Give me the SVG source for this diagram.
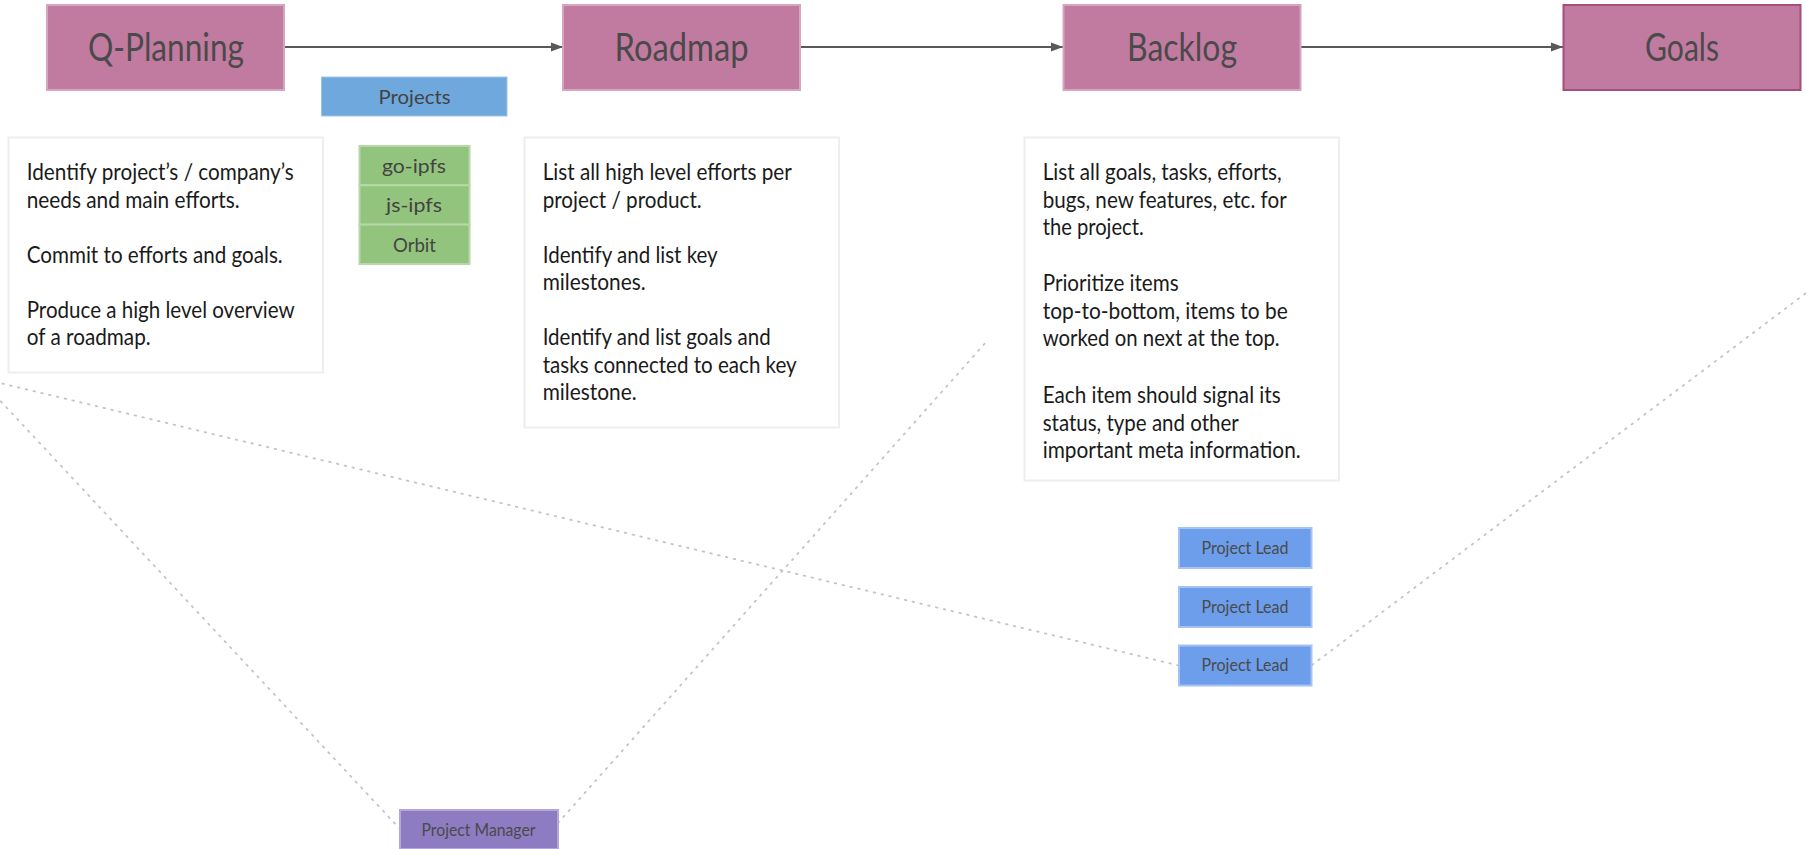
<svg xmlns="http://www.w3.org/2000/svg" width="1807" height="849" viewBox="0 0 1807 849">
<defs>
<marker id="arr" markerWidth="12" markerHeight="10" refX="12" refY="5" orient="auto" markerUnits="userSpaceOnUse">
<path d="M0,0.4 L12,5 L0,9.6 Z" fill="#595959"/>
</marker>
<style>
.stage{fill:#c27ba0;stroke:#d5a6bd;stroke-width:2}
.goal{fill:#c27ba0;stroke:#a64d79;stroke-width:2}
.title{font-family:Lato,"Open Sans","Liberation Sans",sans-serif;font-size:38px;fill:#4a4a4a}
.desc{fill:#ffffff;stroke:#eeeeee;stroke-width:2}
.body{font-family:Lato,"Open Sans","Liberation Sans",sans-serif;font-size:24px;fill:#1a1a1a}
.lbl{font-family:Lato,"Open Sans","Liberation Sans",sans-serif;font-size:20px;fill:#434343}
.sm{font-family:Lato,"Open Sans","Liberation Sans",sans-serif;font-size:17px;fill:#4a4a4a}
.proj{fill:#6fa8dc;stroke:#9fc5e8;stroke-width:1}
.green{fill:#93c47d;stroke:#b6d7a8;stroke-width:2}
.lead{fill:#6d9eeb;stroke:#a4c2f4;stroke-width:2}
.pm{fill:#8e7cc3;stroke:#b4a7d6;stroke-width:2}
.flow{stroke:#595959;stroke-width:2;fill:none}
.dot{stroke:#c4c4c4;stroke-width:1.8;fill:none;stroke-dasharray:1.6 6.4;stroke-linecap:round}
</style>
</defs>

<g id="connectors">
<line class="flow" x1="284" y1="47" x2="563" y2="47" marker-end="url(#arr)"/>
<line class="flow" x1="800" y1="47" x2="1063" y2="47" marker-end="url(#arr)"/>
<line class="flow" x1="1300" y1="47" x2="1563" y2="47" marker-end="url(#arr)"/>
<line class="dot" x1="-21" y1="378" x2="1179" y2="665.5"/>
<line class="dot" x1="-21" y1="378" x2="400" y2="829"/>
<line class="dot" x1="558" y1="823" x2="987" y2="341"/>
<line class="dot" x1="1312" y1="665" x2="1830" y2="275"/>
</g>

<g id="q-planning">
<rect class="stage" x="47" y="5" width="237" height="85"/>
<text class="title" x="88" y="61" textLength="156" lengthAdjust="spacingAndGlyphs">Q-Planning</text>
</g>
<g id="roadmap">
<rect class="stage" x="563" y="5" width="237" height="85"/>
<text class="title" x="614.5" y="61" textLength="134" lengthAdjust="spacingAndGlyphs">Roadmap</text>
</g>
<g id="backlog">
<rect class="stage" x="1063.5" y="5" width="237" height="85"/>
<text class="title" x="1127" y="61" textLength="110" lengthAdjust="spacingAndGlyphs">Backlog</text>
</g>
<g id="goals">
<rect class="goal" x="1563.5" y="5" width="237" height="85"/>
<text class="title" x="1645" y="61" textLength="74" lengthAdjust="spacingAndGlyphs">Goals</text>
</g>

<g id="projects">
<rect class="proj" x="321.5" y="77" width="185.5" height="39"/>
<text class="lbl" x="378.5" y="104" textLength="72" lengthAdjust="spacingAndGlyphs">Projects</text>
</g>
<g id="go-ipfs">
<rect class="green" x="359.5" y="146" width="110" height="39.3"/>
<text class="lbl" x="382" y="173" textLength="64" lengthAdjust="spacingAndGlyphs">go-ipfs</text>
</g>
<g id="js-ipfs">
<rect class="green" x="359.5" y="185.3" width="110" height="39.3"/>
<text class="lbl" x="386" y="212" textLength="56" lengthAdjust="spacingAndGlyphs">js-ipfs</text>
</g>
<g id="orbit">
<rect class="green" x="359.5" y="224.6" width="110" height="39.4"/>
<text class="lbl" x="393" y="251.5" textLength="43" lengthAdjust="spacingAndGlyphs">Orbit</text>
</g>

<g id="qplanning-desc">
<rect class="desc" x="8.5" y="137.5" width="314.5" height="235"/>
<text class="body" x="26.7" y="180" textLength="267" lengthAdjust="spacingAndGlyphs">Identify project’s / company’s</text>
<text class="body" x="26.7" y="207.5" textLength="213" lengthAdjust="spacingAndGlyphs">needs and main efforts.</text>
<text class="body" x="26.7" y="262.5" textLength="256" lengthAdjust="spacingAndGlyphs">Commit to efforts and goals.</text>
<text class="body" x="26.7" y="317.5" textLength="268" lengthAdjust="spacingAndGlyphs">Produce a high level overview</text>
<text class="body" x="26.7" y="345" textLength="124" lengthAdjust="spacingAndGlyphs">of a roadmap.</text>
</g>

<g id="roadmap-desc">
<rect class="desc" x="524.5" y="137.5" width="314.5" height="290"/>
<text class="body" x="542.7" y="180" textLength="249" lengthAdjust="spacingAndGlyphs">List all high level efforts per</text>
<text class="body" x="542.7" y="207.5" textLength="159" lengthAdjust="spacingAndGlyphs">project / product.</text>
<text class="body" x="542.7" y="262.5" textLength="175" lengthAdjust="spacingAndGlyphs">Identify and list key</text>
<text class="body" x="542.7" y="290" textLength="103" lengthAdjust="spacingAndGlyphs">milestones.</text>
<text class="body" x="542.7" y="345" textLength="228" lengthAdjust="spacingAndGlyphs">Identify and list goals and</text>
<text class="body" x="542.7" y="372.5" textLength="254" lengthAdjust="spacingAndGlyphs">tasks connected to each key</text>
<text class="body" x="542.7" y="400" textLength="94" lengthAdjust="spacingAndGlyphs">milestone.</text>
</g>

<g id="backlog-desc">
<rect class="desc" x="1024.5" y="137.5" width="314.5" height="343"/>
<text class="body" x="1042.7" y="180" textLength="239" lengthAdjust="spacingAndGlyphs">List all goals, tasks, efforts,</text>
<text class="body" x="1042.7" y="207.5" textLength="244" lengthAdjust="spacingAndGlyphs">bugs, new features, etc. for</text>
<text class="body" x="1042.7" y="235" textLength="101" lengthAdjust="spacingAndGlyphs">the project.</text>
<text class="body" x="1042.7" y="291" textLength="136" lengthAdjust="spacingAndGlyphs">Prioritize items</text>
<text class="body" x="1042.7" y="318.5" textLength="245" lengthAdjust="spacingAndGlyphs">top-to-bottom, items to be</text>
<text class="body" x="1042.7" y="346" textLength="237" lengthAdjust="spacingAndGlyphs">worked on next at the top.</text>
<text class="body" x="1042.7" y="403" textLength="238" lengthAdjust="spacingAndGlyphs">Each item should signal its</text>
<text class="body" x="1042.7" y="430.5" textLength="196" lengthAdjust="spacingAndGlyphs">status, type and other</text>
<text class="body" x="1042.7" y="458" textLength="258" lengthAdjust="spacingAndGlyphs">important meta information.</text>
</g>

<g id="project-lead-1">
<rect class="lead" x="1179" y="528" width="132.5" height="40"/>
<text class="sm" x="1201.5" y="553.5" textLength="87" lengthAdjust="spacingAndGlyphs">Project Lead</text>
</g>
<g id="project-lead-2">
<rect class="lead" x="1179" y="587" width="132.5" height="40"/>
<text class="sm" x="1201.5" y="612.8" textLength="87" lengthAdjust="spacingAndGlyphs">Project Lead</text>
</g>
<g id="project-lead-3">
<rect class="lead" x="1179" y="645.5" width="132.5" height="40"/>
<text class="sm" x="1201.5" y="671.4" textLength="87" lengthAdjust="spacingAndGlyphs">Project Lead</text>
</g>

<g id="project-manager">
<rect class="pm" x="400" y="810" width="158" height="39"/>
<text class="sm" x="421.5" y="836" textLength="114" lengthAdjust="spacingAndGlyphs">Project Manager</text>
</g>
</svg>
